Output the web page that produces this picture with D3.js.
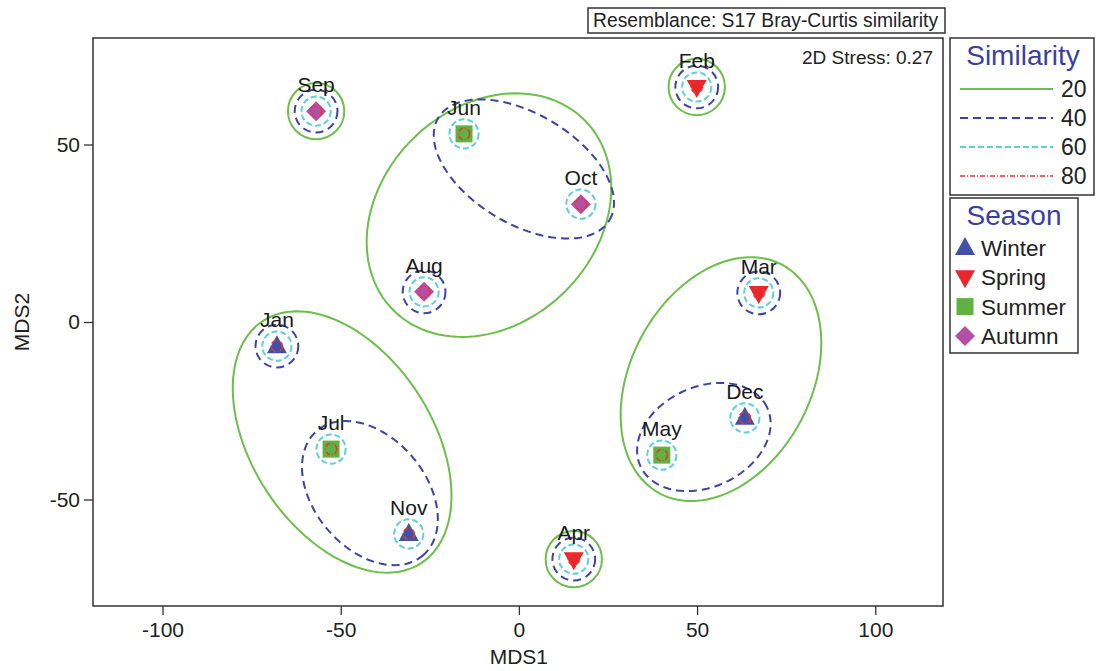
<!DOCTYPE html>
<html><head><meta charset="utf-8">
<script src="https://cdn.jsdelivr.net/npm/d3@7"></script>
<style>body{margin:0;background:#fff}svg{display:block;font-family:"Liberation Sans",Arial,sans-serif}</style>
</head><body><svg id="c" width="1098" height="671"></svg>
<script>
// ---- data ----
const months  = ["Sep","Feb","Jun","Oct","Aug","Jan","Jul","Nov","Apr","May","Dec","Mar"];
const mds1    = [-56.9, 49.9, -15.4, 17.4, -26.6, -67.9, -52.7, -30.9, 15.4, 40.1, 63.4, 67.3];
const mds2    = [ 59.4, 66.2,  53.0, 33.2,   8.5,  -6.8, -35.8, -59.7, -66.8, -37.5, -27.0, 8.2];
const seasonOf = ["Autumn","Spring","Summer","Autumn","Autumn","Winter","Summer","Winter","Spring","Summer","Winter","Spring"];
const seasons = ["Winter","Spring","Summer","Autumn"];
const simLevels = [20, 40, 60, 80];
// single-sample contour rings drawn around each sample
const ringLevels = [[20,40,60,80],[20,40,60,80],[60,80],[60,80],[40,60,80],[40,60,80],[60,80],[60,80],[20,40,60,80],[60,80],[60,80],[40,60,80]];
const ringRadius = {20: 7.9, 40: 6.0, 60: 4.1, 80: 1.6};
// group contours: level, centre (mds1, mds2), semi-axes, angle (deg)
const groupLevel = [20, 40, 20, 40, 20, 40];
const groupCx    = [-8.4, 1.4, -49.6, -41.8, 56.7, 51.9];
const groupCy    = [30.1, 43.1, -33.8, -48.2, -16.1, -32.4];
const groupA     = [37.9, 28.0, 40.7, 23.0, 36.5, 19.6];
const groupB     = [30.3, 15.5, 25.3, 15.7, 25.3, 14.1];
const groupAng   = [45, -31, -57, -50, 62, 25];
const xTicks = [-100,-50,0,50,100];
const yTicks = [-50,0,50];

// ---- styles ----
const levelStyle = {
  20:{stroke:"#6dbf4b", dash:null, w:2},
  40:{stroke:"#3d43a0", dash:"8,5", w:2},
  60:{stroke:"#5fcfd9", dash:"6,3", w:2},
  80:{stroke:"#ee3333", dash:"5,2,1,2", w:1.5}
};
const seasonColor = {Winter:"#4150a8", Spring:"#e8262b", Summer:"#5cb341", Autumn:"#b24fa6"};
const seasonShape = {Winter:"up", Spring:"down", Summer:"square", Autumn:"diamond"};

const svg = d3.select("#c");
const L=93, R=943, T=38, B=606;
const x = d3.scaleLinear().domain([-119.5,119]).range([L,R]);
const y = d3.scaleLinear().domain([-80,80]).range([B,T]);

function shapePath(s, cx, cy, r){
  if(s==="up") return `M${cx},${cy-r*1.1}L${cx+r},${cy+r*0.7}L${cx-r},${cy+r*0.7}Z`;
  if(s==="down") return `M${cx},${cy+r*1.1}L${cx+r},${cy-r*0.7}L${cx-r},${cy-r*0.7}Z`;
  if(s==="square") return `M${cx-r*0.85},${cy-r*0.85}h${r*1.7}v${r*1.7}h${-r*1.7}Z`;
  return `M${cx},${cy-r}L${cx+r},${cy}L${cx},${cy+r}L${cx-r},${cy}Z`;
}

// frame
svg.append("rect").attr("x",L).attr("y",T).attr("width",R-L).attr("height",B-T)
  .attr("fill","none").attr("stroke","#333").attr("stroke-width",1.5);

// axes
const fmt = d => String(d);
const xa = svg.append("g").attr("transform",`translate(0,${B})`)
  .call(d3.axisBottom(x).tickValues(xTicks).tickSize(9).tickPadding(7).tickFormat(fmt));
const ya = svg.append("g").attr("transform",`translate(${L},0)`)
  .call(d3.axisLeft(y).tickValues(yTicks).tickSize(9).tickPadding(4).tickFormat(fmt));
[xa,ya].forEach(g=>{
  g.select(".domain").remove();
  g.selectAll("line").attr("stroke","#333").attr("stroke-width",1.3);
  g.selectAll("text").attr("fill","#222").style("font-size","21px").style("font-family","Liberation Sans, Arial, sans-serif");
});
svg.append("text").attr("x",x(0)).attr("y",664).attr("text-anchor","middle")
  .style("font-size","21px").attr("fill","#222").text("MDS1");
svg.append("text").attr("transform",`translate(29,${y(0)}) rotate(-90)`).attr("text-anchor","middle")
  .style("font-size","21px").attr("fill","#222").text("MDS2");

// group contours
const line = d3.line().x(d=>x(d[0])).y(d=>y(d[1])).curve(d3.curveLinearClosed);
const plot = svg.append("g");
groupLevel.forEach((lv,i)=>{
  const ang = groupAng[i]*Math.PI/180, pts=[];
  for(let k=0;k<120;k++){
    const t=k/120*2*Math.PI;
    const u=groupA[i]*Math.cos(t), v=groupB[i]*Math.sin(t);
    pts.push([groupCx[i]+u*Math.cos(ang)-v*Math.sin(ang), groupCy[i]+u*Math.sin(ang)+v*Math.cos(ang)]);
  }
  const st=levelStyle[lv];
  plot.append("path").attr("d",line(pts)).attr("fill","none").attr("stroke",st.stroke)
    .attr("stroke-width",st.w).attr("stroke-dasharray",st.dash);
});
// rings (except 80, drawn over markers)
const pxPerUnit = x(1)-x(0);
months.forEach((m,i)=>{
  ringLevels[i].filter(l=>l!==80).forEach(lv=>{
    const st=levelStyle[lv];
    plot.append("circle").attr("cx",x(mds1[i])).attr("cy",y(mds2[i])).attr("r",ringRadius[lv]*pxPerUnit)
      .attr("fill","none").attr("stroke",st.stroke).attr("stroke-width",st.w).attr("stroke-dasharray",st.dash);
  });
});
// markers
months.forEach((m,i)=>{
  const s=seasonOf[i];
  plot.append("path").attr("d",shapePath(seasonShape[s],x(mds1[i]),y(mds2[i]),10)).attr("fill",seasonColor[s]);
});
months.forEach((m,i)=>{
  const st=levelStyle[80];
  plot.append("circle").attr("cx",x(mds1[i])).attr("cy",y(mds2[i])).attr("r",ringRadius[80]*pxPerUnit)
    .attr("fill","none").attr("stroke",st.stroke).attr("stroke-width",st.w).attr("stroke-dasharray",st.dash);
});
// labels
months.forEach((m,i)=>{
  plot.append("text").attr("x",x(mds1[i])).attr("y",y(mds2[i])-19).attr("text-anchor","middle")
    .style("font-size","21px").attr("fill","#1a1a1a").text(m);
});

// annotations
svg.append("rect").attr("x",588).attr("y",8).attr("width",357).attr("height",25)
  .attr("fill","#fff").attr("stroke","#333").attr("stroke-width",1.5);
svg.append("text").attr("x",593).attr("y",27).style("font-size","19.3px").attr("fill","#222")
  .text("Resemblance: S17 Bray-Curtis similarity");
svg.append("text").attr("x",933).attr("y",64).attr("text-anchor","end").style("font-size","19px").attr("fill","#222")
  .text("2D Stress: 0.27");

// legend: similarity
const lg1 = svg.append("g");
lg1.append("rect").attr("x",950).attr("y",38).attr("width",144).attr("height",157)
  .attr("fill","#fff").attr("stroke","#333").attr("stroke-width",1.5);
lg1.append("text").attr("x",1023).attr("y",65).attr("text-anchor","middle").style("font-size","28px")
  .attr("fill","#3c3f9c").text("Similarity");
simLevels.forEach((lv,k)=>{
  const yy=89+k*29, st=levelStyle[lv];
  lg1.append("line").attr("x1",960).attr("x2",1053).attr("y1",yy).attr("y2",yy)
    .attr("stroke",st.stroke).attr("stroke-width",st.w).attr("stroke-dasharray",st.dash);
  lg1.append("text").attr("x",1061).attr("y",yy+8).style("font-size","23px").attr("fill","#222").text(lv);
});
// legend: season
const lg2 = svg.append("g");
lg2.append("rect").attr("x",950).attr("y",198).attr("width",128).attr("height",155)
  .attr("fill","#fff").attr("stroke","#333").attr("stroke-width",1.5);
lg2.append("text").attr("x",1014).attr("y",225).attr("text-anchor","middle").style("font-size","28px")
  .attr("fill","#3c3f9c").text("Season");
seasons.forEach((s,k)=>{
  const yy=248+k*29.3;
  lg2.append("path").attr("d",shapePath(seasonShape[s],965,yy,10)).attr("fill",seasonColor[s]);
  lg2.append("text").attr("x",981).attr("y",yy+8).style("font-size","22.5px").attr("fill","#222").text(s);
});
</script></body></html>
